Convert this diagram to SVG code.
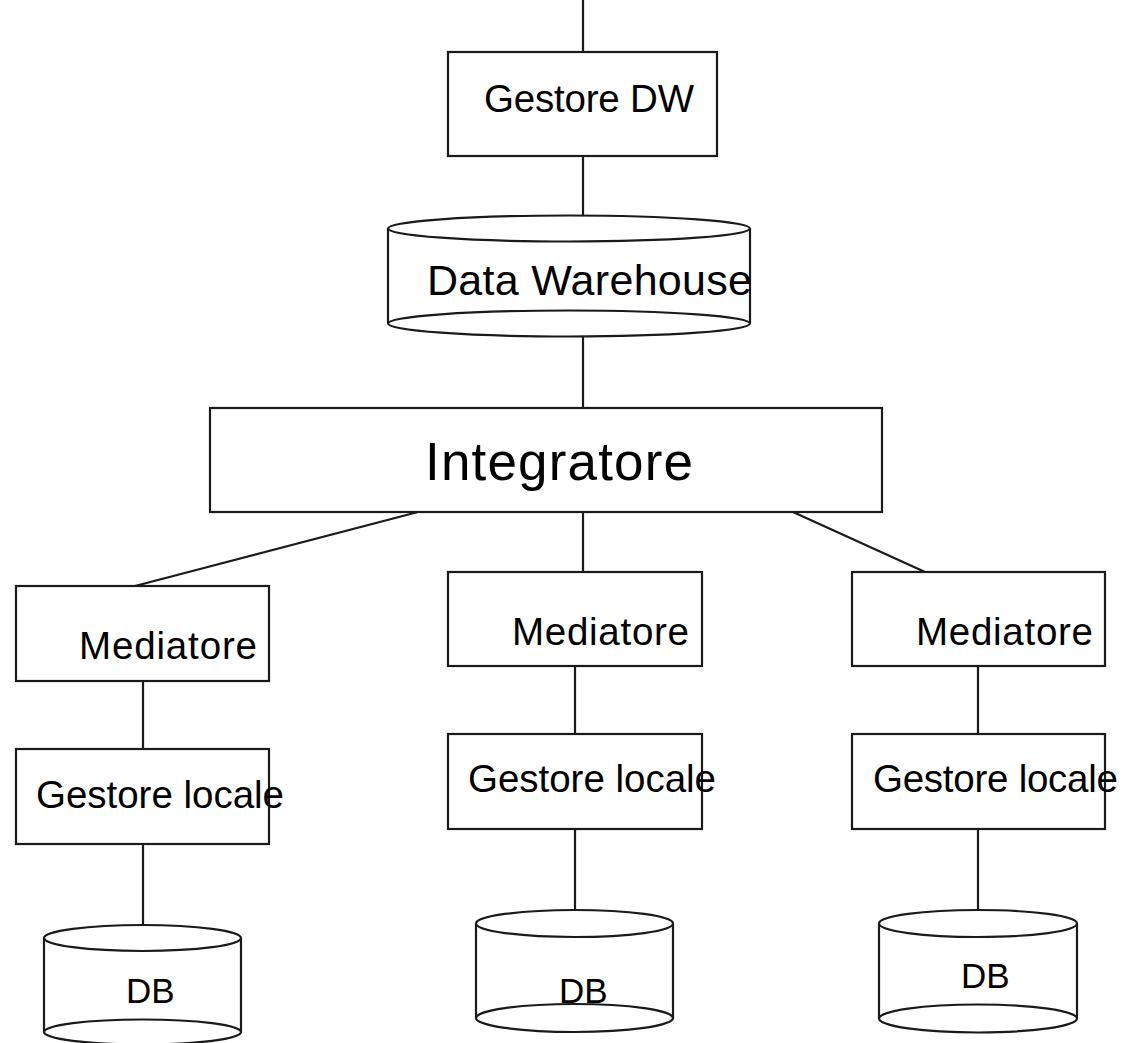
<svg xmlns="http://www.w3.org/2000/svg" width="1126" height="1043" viewBox="0 0 1126 1043">
<style>
.box{fill:#fff;stroke:#1a1a1a;stroke-width:2.2}
.cyl{fill:none;stroke:#1a1a1a;stroke-width:2.2}
.ln{fill:none;stroke:#1a1a1a;stroke-width:2.2}
text{font-family:"Liberation Sans",Arial,sans-serif;fill:#000}
.t38{font-size:38.5px}
.db{font-size:35px}
</style>
<rect width="1126" height="1043" fill="#fff"/>
<g id="connectors">
<line class="ln" x1="583" y1="0" x2="583" y2="52"/>
<line class="ln" x1="583" y1="156" x2="583" y2="215"/>
<line class="ln" x1="583" y1="337" x2="583" y2="408"/>
<line class="ln" x1="418" y1="512" x2="135" y2="586"/>
<line class="ln" x1="583" y1="512" x2="583" y2="572"/>
<line class="ln" x1="793" y1="512" x2="925" y2="572"/>
<line class="ln" x1="143" y1="681" x2="143" y2="749"/>
<line class="ln" x1="143" y1="844" x2="143" y2="925"/>
<line class="ln" x1="575" y1="666" x2="575" y2="734"/>
<line class="ln" x1="575" y1="829" x2="575" y2="910"/>
<line class="ln" x1="978" y1="666" x2="978" y2="734"/>
<line class="ln" x1="978" y1="829" x2="978" y2="910"/>
</g>
<g id="gestore-dw">
<rect class="box" x="448" y="52" width="269" height="104"/>
<text class="t38" x="484" y="112" textLength="210">Gestore DW</text>
</g>
<g id="data-warehouse">
<line class="cyl" x1="388" y1="228" x2="388" y2="323"/>
<line class="cyl" x1="750" y1="228" x2="750" y2="323"/>
<ellipse class="cyl" cx="569" cy="228.5" rx="181" ry="13"/>
<ellipse class="cyl" cx="569" cy="323.5" rx="181" ry="13"/>
<text x="427" y="295" font-size="43" textLength="325">Data Warehouse</text>
</g>
<g id="integratore">
<rect class="box" x="210" y="408" width="672" height="104"/>
<text x="425" y="480" font-size="53" textLength="268">Integratore</text>
</g>
<g id="mediatore-1">
<rect class="box" x="16" y="586" width="253" height="95"/>
<text class="t38" x="79" y="659" textLength="178">Mediatore</text>
</g>
<g id="mediatore-2">
<rect class="box" x="448" y="572" width="254" height="94"/>
<text class="t38" x="512" y="645" textLength="177">Mediatore</text>
</g>
<g id="mediatore-3">
<rect class="box" x="852" y="572" width="253" height="94"/>
<text class="t38" x="916" y="645" textLength="177">Mediatore</text>
</g>
<g id="gestore-locale-1">
<rect class="box" x="16" y="749" width="253" height="95"/>
<text class="t38" x="36" y="808" textLength="248">Gestore locale</text>
</g>
<g id="gestore-locale-2">
<rect class="box" x="448" y="734" width="254" height="95"/>
<text class="t38" x="468" y="792" textLength="248">Gestore locale</text>
</g>
<g id="gestore-locale-3">
<rect class="box" x="852" y="734" width="253" height="95"/>
<text class="t38" x="873" y="792" textLength="245">Gestore locale</text>
</g>
<g id="db-1">
<line class="cyl" x1="44" y1="938" x2="44" y2="1032"/>
<line class="cyl" x1="241" y1="938" x2="241" y2="1032"/>
<ellipse class="cyl" cx="142.5" cy="938" rx="98.5" ry="13"/>
<ellipse class="cyl" cx="142.5" cy="1032" rx="98.5" ry="12.5"/>
<text class="db" x="126" y="1003">DB</text>
</g>
<g id="db-2">
<line class="cyl" x1="476" y1="923.5" x2="476" y2="1018"/>
<line class="cyl" x1="673" y1="923.5" x2="673" y2="1018"/>
<ellipse class="cyl" cx="574.5" cy="923.5" rx="98.5" ry="13.5"/>
<ellipse class="cyl" cx="574.5" cy="1018" rx="98.5" ry="14"/>
<text class="db" x="559" y="1003">DB</text>
</g>
<g id="db-3">
<line class="cyl" x1="879" y1="923.5" x2="879" y2="1018.5"/>
<line class="cyl" x1="1077" y1="923.5" x2="1077" y2="1018.5"/>
<ellipse class="cyl" cx="978" cy="923.5" rx="99" ry="13.5"/>
<ellipse class="cyl" cx="978" cy="1018.5" rx="99" ry="14"/>
<text class="db" x="961" y="988">DB</text>
</g>
</svg>
